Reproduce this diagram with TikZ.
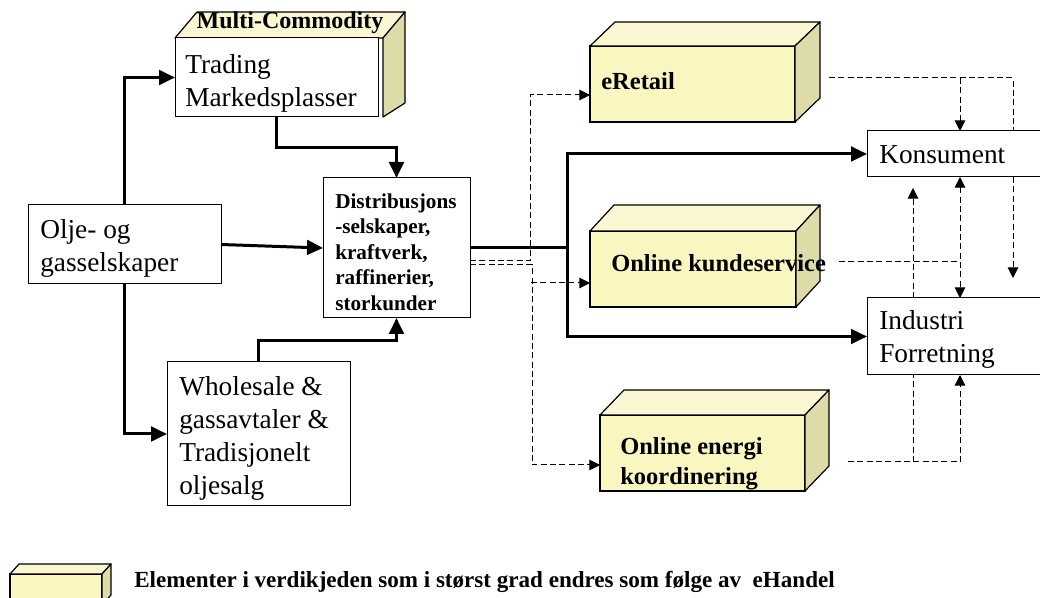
\documentclass[tikz,border=0pt]{standalone}
\usepackage{fontspec}
\setmainfont{Liberation Serif}
\usetikzlibrary{arrows.meta,calc}
\definecolor{yfront}{RGB}{250,246,192}
\definecolor{ytop}{RGB}{250,247,210}
\definecolor{yside}{RGB}{221,219,168}
\newcommand{\cubefaces}[3]{%
  \filldraw[cubeline, fill=ytop] (#1.north west) -- ++(#2,-#3) -- ($(#1.north east)+(#2,-#3)$) -- (#1.north east) -- cycle;
  \filldraw[cubeline, fill=yside] (#1.north east) -- ++(#2,-#3) -- ($(#1.south east)+(#2,-#3)$) -- (#1.south east) -- cycle;}
\begin{document}
\begin{tikzpicture}[x=0.75pt,y=-0.75pt,
  box/.style={draw, line width=0.75pt, fill=white, inner sep=0pt, outer sep=0pt},
  ybox/.style={draw, line width=0.9pt, fill=yfront, inner sep=0pt, outer sep=0pt},
  cubeline/.style={line width=0.9pt, draw=black, line join=round},
  txt/.style={font=\fontsize{20.5}{24.75}\selectfont, align=left, inner sep=0pt},
  btxt/.style={font=\fontsize{18.4}{22.5}\selectfont\bfseries, align=left, inner sep=0pt},
  dtxt/.style={font=\fontsize{15.9}{19.1}\selectfont\bfseries, align=left, inner sep=0pt},
  thk/.style={line width=2.25pt, -{Triangle[length=12pt,width=11pt]}},
  thkline/.style={line width=2.25pt},
  dsh/.style={line width=0.75pt, dash pattern=on 4.5pt off 2.5pt},
  dar/.style={dsh, -{Triangle[length=8pt,width=8pt]}},
  dard/.style={dsh, {Triangle[length=8pt,width=8pt]}-{Triangle[length=8pt,width=8pt]}}
]
\clip (0,0) rectangle (1040,598);
\fill[white] (0,0) rectangle (1040,598);

% Multi-Commodity cube with Trading box
\filldraw[cubeline, fill=ytop] (175,38) -- (197,12) -- (405,12) -- (383,38) -- cycle;
\filldraw[cubeline, fill=yside] (383,38) -- (405,12) -- (405,103) -- (383,117) -- cycle;
\node[box, minimum width=152.25pt, minimum height=59.25pt] (trading) at (276.5,77.5) {};
\node[font=\fontsize{18}{21}\selectfont\bfseries, inner sep=0pt] (mc) at (290,23) {Multi-Commodity};
\node[txt, anchor=west] (tradingtxt) at (185,83.5) {Trading\\Markedsplasser};

% white boxes
\node[box, minimum width=144.75pt, minimum height=59.25pt] (olje) at (124.5,244.5) {};
\node[txt, anchor=west] (oljetxt) at (40,248.5) {Olje- og\\gasselskaper};
\node[box, minimum width=110.25pt, minimum height=105pt] (distrib) at (396.5,248) {};
\node[dtxt, anchor=west] (distribtxt) at (335,252) {Distribusjons\\-selskaper,\\kraftverk,\\raffinerier,\\storkunder};
\node[box, minimum width=137.25pt, minimum height=108pt] (wholesale) at (258.5,434) {};
\node[txt, anchor=west] (wholesaletxt) at (179,438) {Wholesale \&\\gassavtaler \&\\Tradisjonelt\\oljesalg};
\node[box, minimum width=133.5pt, minimum height=34.5pt] (konsument) at (956,154) {};
\node[txt, anchor=west] (konsumenttxt) at (879,155) {Konsument};
\node[box, minimum width=133.5pt, minimum height=57.75pt] (industri) at (956,336.5) {};
\node[txt, anchor=west] (industritxt) at (879,339.5) {Industri\\Forretning};

% yellow cubes
\node[ybox, minimum width=153.75pt, minimum height=57pt] (eretail) at (692.5,84) {};
\cubefaces{eretail}{25}{24}
\node[btxt, anchor=west] (eretailtxt) at (601,81) {eRetail};
\node[ybox, minimum width=154.5pt, minimum height=57pt] (oks) at (693,269) {};
\cubefaces{oks}{24}{26}
\node[btxt, anchor=west] (okstxt) at (611,263) {Online kundeservice};
\node[ybox, minimum width=153.75pt, minimum height=57pt] (oe) at (702.5,453) {};
\cubefaces{oe}{24}{25}
\node[btxt, anchor=west] (oetxt) at (620,464) {Online energi\\koordinering};

% legend
\node[ybox, minimum width=69pt, minimum height=23.25pt] (leg) at (56,589.5) {};
\cubefaces{leg}{9}{10}
\node[font=\fontsize{17.3}{20}\selectfont\bfseries, inner sep=0pt, anchor=base west] (legtxt) at (134,588) {Elementer i verdikjeden som i størst grad endres som følge av\ \ eHandel};

% thick connectors
\draw[thk] (olje.north) |- (trading.west);
\draw[thk] (olje.south) |- (wholesale.west);
\draw[thk] (olje.east) -- (distrib.west);
\draw[thk] (trading.south) -- ++(0,31) -| (distrib.north);
\draw[thk] (wholesale.north) -- ++(0,-21) -| (distrib.south);
\coordinate (hub) at (567,248);
\draw[thkline] (distrib.east) -- (hub);
\draw[thk] (hub) |- (konsument.west);
\draw[thk] (hub) |- (industri.west);

% dashed connectors, left
\coordinate (d1) at (530,261);
\coordinate (d2) at (532,265);
\coordinate (bk) at (531,283);
\draw[dar] ([yshift=-9.75pt]distrib.east) -- (d1) |- ([yshift=-8.25pt]eretail.west);
\draw[dar] ([yshift=-12.75pt]distrib.east) -- (d2) |- ([yshift=-9pt]oe.west);
\draw[dar] (bk) -- (bk -| oks.west);

% dashed connectors, right
\coordinate (e1) at (829,78);
\coordinate (e2) at (960,78);
\coordinate (e3) at (1013,78);
\coordinate (e4) at (1013,278);
\draw[dsh] (e1) -- (e3) -- (e3 |- konsument.north);
\draw[dar] (e3 |- konsument.south) -- (e4);
\draw[dar] (e2) -- (e2 |- konsument.north);
\coordinate (k1) at (839,262);
\coordinate (k2) at (960,262);
\draw[dsh] (k1) -- (k2);
\draw[dard] (k2 |- konsument.south) -- (k2 |- industri.north);
\coordinate (o1) at (848,462);
\coordinate (o2) at (960,462);
\coordinate (o3) at (913,462);
\coordinate (o4) at (913,188);
\draw[dar] (o1) -- (o2) -- (o2 |- industri.south);
\draw[dsh] (o3) -- (o3 |- industri.south);
\draw[dar] (o3 |- industri.north) -- (o4);
\end{tikzpicture}
\end{document}
